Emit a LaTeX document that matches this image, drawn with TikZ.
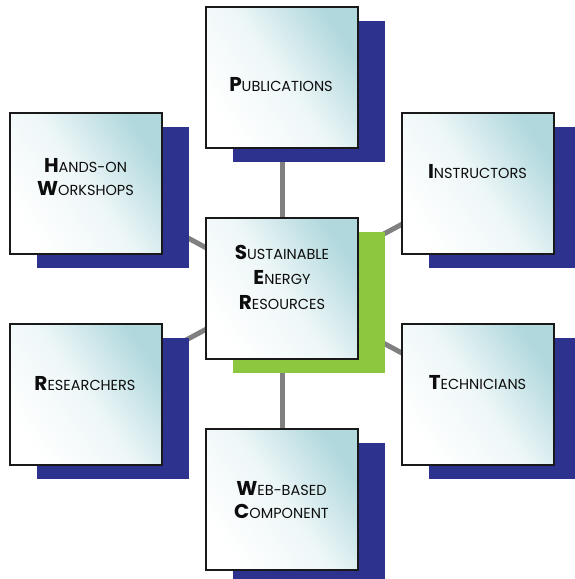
\documentclass[tikz,border=0pt]{standalone}
\usepackage{fontspec}
\setmainfont{Poppins}
\usetikzlibrary{backgrounds}

\definecolor{shadownavy}{RGB}{46,50,143}
\definecolor{shadowgreen}{RGB}{141,198,63}
\definecolor{panelteal}{RGB}{176,216,221}
\definecolor{spokegray}{RGB}{128,128,128}

\newcommand{\capsword}[2]{{\fontsize{20}{23}\selectfont\bfseries #1}#2}

\begin{document}
\begin{tikzpicture}[
			x=1pt, y=-1pt,
			panel/.style={draw=black!90, line width=2pt, minimum width=152pt, minimum height=141pt, inner sep=0pt,
				top color=panelteal, bottom color=white, middle color=panelteal!22, shading angle=-55},
			backdrop/.style={fill=#1, minimum width=152pt, minimum height=141pt, inner sep=0pt},
			caption/.style={align=center, text=black!95, inner sep=0pt, font=\fontsize{14.5}{23}\selectfont},
			spoke/.style={draw=spokegray, line width=5pt},
		]
		\useasboundingbox (0,0) rectangle (574,579);

		% Shadows
		\node[backdrop=shadowgreen] (coreback) at (309,302.5) {};
		\node[backdrop=shadownavy] (pubback) at (309,91.5) {};
		\node[backdrop=shadownavy] (handsback) at (112.5,197) {};
		\node[backdrop=shadownavy] (instrback) at (505,197.5) {};
		\node[backdrop=shadownavy] (researchback) at (112.5,408) {};
		\node[backdrop=shadownavy] (techback) at (505,408) {};
		\node[backdrop=shadownavy] (webback) at (309,513) {};

		% Panels
		\node[panel] (core) at (282,288.5) {};
		\node[panel] (pub) at (282,77.5) {};
		\node[panel] (hands) at (85.5,183) {};
		\node[panel] (instr) at (478,183.5) {};
		\node[panel] (research) at (85.5,394) {};
		\node[panel] (tech) at (478,394) {};
		\node[panel] (web) at (282,499) {};

		% Labels
		\node[caption, font=\fontsize{14.5}{25}\selectfont] (coretext) at (282,277) {\capsword{S}{USTAINABLE}\\\capsword{E}{NERGY}\\\capsword{R}{ESOURCES}};
		\node[caption] (pubtext) at (281,84.5) {\capsword{P}{UBLICATIONS}};
		\node[caption] (handstext) at (85.5,177) {\capsword{H}{ANDS-ON}\\\capsword{W}{ORKSHOPS}};
		\node[caption] (instrtext) at (477.5,172) {\capsword{I}{NSTRUCTORS}};
		\node[caption] (researchtext) at (85,384) {\capsword{R}{ESEARCHERS}};
		\node[caption] (techtext) at (477.5,382.5) {\capsword{T}{ECHNICIANS}};
		\node[caption] (webtext) at (281.5,500.5) {\capsword{W}{EB-BASED}\\\capsword{C}{OMPONENT}};

		% Spokes from the core
		\begin{scope}[on background layer]
			\draw[spoke] (core.center) -- (pub.center);
			\draw[spoke] (core.center) -- (hands.center);
			\draw[spoke] (core.center) -- (instr.center);
			\draw[spoke] (core.center) -- (research.center);
			\draw[spoke] (core.center) -- (tech.center);
			\draw[spoke] (core.center) -- (web.center);
		\end{scope}
	\end{tikzpicture}
\end{document}
